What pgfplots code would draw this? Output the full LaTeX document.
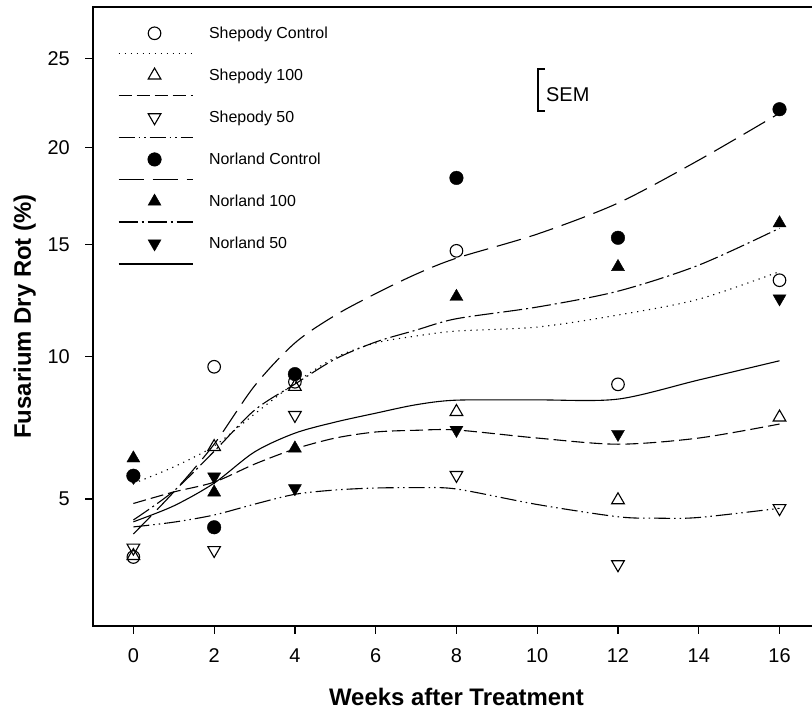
\documentclass[border=0pt]{standalone}
\usepackage{fontspec}
\setmainfont{Liberation Sans}
\usepackage{pgfplots}
\pgfplotsset{compat=1.18}
\pgfplotsset{
  leg/.style={legend image code/.code={%
    \path[draw=none, fill=none] (-36bp,21bp) (38bp,-21bp);
    \draw[black, line width=1.1bp, #1] (-36bp,-20.5bp) -- (38bp,-20.5bp);
    \draw[##1] plot coordinates {(0bp,0bp)};
  }},
  curve/.style={black, line width=1.1bp, smooth, no marks, forget plot},
  pts/.style={only marks, black},
}
\begin{document}
\begin{tikzpicture}
\useasboundingbox (-93bp,-85bp) rectangle (719bp,626bp);
\begin{axis}[
  at={(0,0)}, anchor=south west,
  scale only axis, width=726.9bp, height=619bp,
  xmin=-1, xmax=17,
  y coord trafo/.code={\pgfmathparse{asin(sqrt(#1/100))}},
  ymin=1.9369, ymax=28.081,
  xtick={0,2,4,6,8,10,12,14,16},
  ytick={5,10,15,20,25},
  yticklabels={5,10,15,20,25},
  minor tick num=0,
  tick pos=left, tick align=outside,
  major tick length=7.5bp,
  every tick/.style={black, line width=1.3bp},
  axis line style={line width=1.5bp},
  /pgf/number format/assume math mode=true,
  tick label style={font=\fontsize{20}{24}\selectfont},
  xticklabel style={inner sep=0pt, anchor=north, yshift=-15bp},
  yticklabel style={inner sep=0pt, anchor=east, xshift=-15.5bp},
  xlabel={Weeks after Treatment},
  ylabel={Fusarium Dry Rot (\%)},
  every axis x label/.style={at={(axis description cs:0.5,-0.12763)}, anchor=base, font=\bfseries\fontsize{24}{29}\selectfont},
  every axis y label/.style={at={(axis description cs:-0.08529,0.5)}, rotate=90, anchor=base, font=\bfseries\fontsize{24}{29}\selectfont},
  legend style={at={(axis description cs:0.03439,0.99144)}, anchor=north west, draw=none, fill=none, inner sep=0pt, outer sep=0pt, column sep=16bp, row sep=0pt, font=\fontsize{16}{19}\selectfont, nodes={inner sep=0pt}},
  legend cell align=left,
  clip=false,
]
% fitted curves
\addplot[curve, dash pattern=on 1.2bp off 4.8bp] coordinates {(0,5.47) (1,5.99) (2,6.68) (3,7.80) (4,8.96) (5,9.97) (6,10.57) (7,10.86) (8,11.07) (10,11.24) (12,11.76) (14,12.46) (16,13.72)};
\addplot[curve, dash pattern=on 13bp off 5bp] coordinates {(0,4.87) (1,5.21) (2,5.51) (3,6.08) (4,6.58) (5,6.95) (6,7.16) (7,7.22) (8,7.23) (10,6.95) (12,6.74) (14,6.95) (16,7.44)};
\addplot[curve, dash pattern=on 16bp off 4bp on 1.5bp off 4bp on 1.5bp off 4bp] coordinates {(0,4.21) (1,4.34) (2,4.54) (3,4.85) (4,5.14) (5,5.27) (6,5.33) (7,5.34) (8,5.30) (10,4.84) (12,4.49) (13,4.45) (14,4.47) (16,4.73)};
\addplot[curve, dash pattern=on 25bp off 9bp] coordinates {(0,4.02) (1,5.21) (2,6.74) (3,8.85) (4,10.57) (5,11.75) (6,12.71) (7,13.60) (8,14.35) (10,15.51) (12,17.06) (14,19.30) (16,21.87)};
\addplot[curve, dash pattern=on 19bp off 4bp on 2bp off 4bp] coordinates {(0,4.40) (1,5.24) (2,6.50) (3,7.94) (4,8.92) (5,9.91) (6,10.61) (7,11.11) (8,11.60) (10,12.11) (12,12.82) (14,14.02) (16,15.80)};
\addplot[curve, solid] coordinates {(0,4.35) (1,4.80) (2,5.48) (3,6.48) (4,7.12) (5,7.51) (6,7.83) (7,8.14) (8,8.31) (10,8.32) (12,8.35) (14,9.08) (16,9.84)};
% observed means
\addplot[pts, mark=o, mark size=6.3bp, mark options={solid, line width=1.1bp}, leg={dash pattern=on 1.2bp off 4.8bp}] coordinates {(0,3.43) (2,9.60) (4,9.01) (8,14.70) (12,8.91) (16,13.32)};
\addlegendentry{Shepody Control}
\addplot[pts, mark=triangle, mark size=7.3bp, mark options={solid, line width=1.1bp}, leg={dash pattern=on 13bp off 5bp}] coordinates {(0,3.46) (2,6.65) (4,8.82) (8,7.88) (12,4.97) (16,7.68)};
\addlegendentry{Shepody 100}
\addplot[pts, mark=triangle, mark size=7.3bp, mark options={solid, line width=1.1bp, rotate=180}, leg={dash pattern=on 16bp off 4bp on 1.5bp off 4bp on 1.5bp off 4bp}] coordinates {(0,3.66) (2,3.60) (4,7.76) (8,5.73) (12,3.25) (16,4.73)};
\addlegendentry{Shepody 50}
\addplot[pts, mark=*, mark size=6.8bp, mark options={solid, fill=black}, leg={dash pattern=on 25bp off 9bp}] coordinates {(0,5.71) (2,4.20) (4,9.31) (8,18.36) (12,15.33) (16,22.09)};
\addlegendentry{Norland Control}
\addplot[pts, mark=triangle*, mark size=7.5bp, mark options={solid, fill=black}, leg={dash pattern=on 19bp off 4bp on 2bp off 4bp}] coordinates {(0,6.27) (2,5.20) (4,6.60) (8,12.57) (12,13.94) (16,16.05)};
\addlegendentry{Norland 100}
\addplot[pts, mark=triangle*, mark size=7.5bp, mark options={solid, fill=black, rotate=180}, leg={solid}] coordinates {(0,5.67) (2,5.68) (4,5.32) (8,7.23) (12,7.09) (16,12.49)};
\addlegendentry{Norland 50}
\end{axis}
% SEM bracket
\draw[line width=1.8bp] (451.7bp,556.7bp) -- (444.7bp,556.7bp) -- (444.7bp,515.3bp) -- (451.7bp,515.3bp);
\node[anchor=base west, inner sep=0pt, font=\fontsize{20}{24}\selectfont] at (453bp,524.3bp) {SEM};
\end{tikzpicture}
\end{document}
